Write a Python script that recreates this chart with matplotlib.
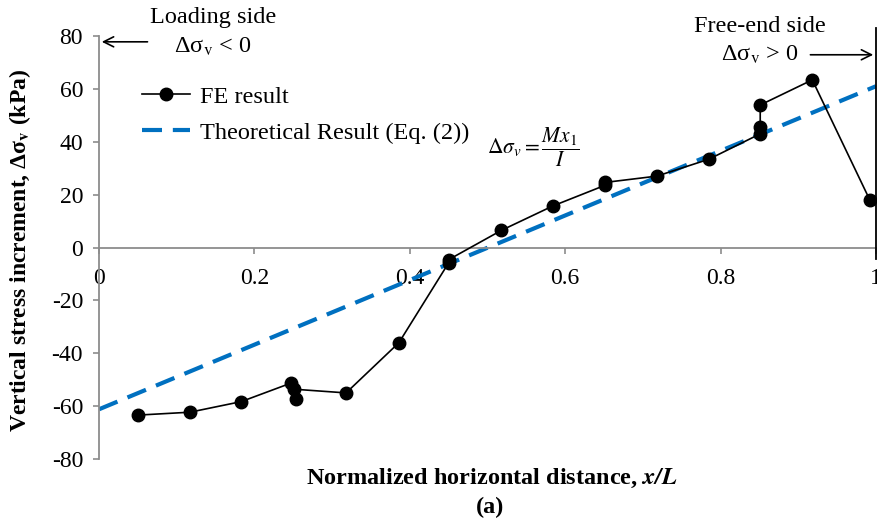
import matplotlib
matplotlib.use("Agg")
import matplotlib.pyplot as plt
import numpy as np

plt.rcParams['font.family'] = ['Liberation Serif', 'DejaVu Serif']
plt.rcParams['mathtext.fontset'] = 'stix'
plt.rcParams['axes.unicode_minus'] = False

# FE result data (normalized distance, stress increment in kPa)
fe_x = [0.050, 0.117, 0.183, 0.247, 0.253, 0.251, 0.318, 0.386, 0.450, 0.450,
        0.518, 0.584, 0.651, 0.651, 0.718, 0.785, 0.851, 0.851, 0.851, 0.918, 0.992]
fe_y = [-63.4, -62.3, -58.3, -51.3, -57.2, -53.6, -55.0, -36.0, -5.8, -4.6,
        6.5, 15.7, 23.5, 24.6, 27.0, 33.4, 43.0, 45.6, 53.9, 63.4, 18.0]

# Theoretical result (Eq. 2): linear
th_x = [0.0, 1.0]
th_y = [-61.2, 61.0]

xticks = [0, 0.2, 0.4, 0.6, 0.8, 1]
xticklabels = ['0', '0.2', '0.4', '0.6', '0.8', '1']
yticks = [-80, -60, -40, -20, 0, 20, 40, 60, 80]

W, H = 877, 530
fig = plt.figure(figsize=(W/100, H/100), dpi=100)
ax = fig.add_axes([99/W, 1-459/H, 777/W, 423/H])
ax.set_xlim(0, 1)
ax.set_ylim(-80, 80)

gray = '#8c8c8c'
ax.plot(th_x, th_y, color='#0070C0', lw=3.0, dashes=(4.8, 2.6),
        label='Theoretical Result (Eq. (2))', zorder=2)
ax.plot(fe_x, fe_y, color='black', lw=1.2, marker='o', ms=9,
        label='FE result', zorder=3)

for s in ['top', 'right']:
    ax.spines[s].set_visible(False)
ax.spines['bottom'].set_position(('data', 0))
for s in ['left', 'bottom']:
    ax.spines[s].set_color(gray)
    ax.spines[s].set_linewidth(1.3)

ax.set_xticks(xticks)
ax.set_xticklabels(xticklabels)
ax.set_yticks(yticks)
ax.tick_params(axis='both', colors=gray, labelcolor='black', labelsize=17,
               length=4.5, width=1.2, direction='out')
ax.tick_params(axis='x', pad=10)
ax.tick_params(axis='y', pad=7)
for lbl in ax.get_xticklabels():
    lbl.set_clip_on(False)

# right boundary line
ax.plot([1, 1], [-4.2, 83.2], color='black', lw=1.3, clip_on=False, zorder=4)

# annotations
fs = 17.5
ax.text(0.147, 87.0, 'Loading side', ha='center', va='center', fontsize=fs)
ax.text(0.147, 75.9, 'Δσ$_\\mathrm{v}$ < 0', ha='center', va='center', fontsize=fs)
ax.annotate('', xy=(0.0, 77.8), xytext=(0.066, 77.8),
            arrowprops=dict(arrowstyle='->', color='black', lw=1.2,
                            mutation_scale=18), annotation_clip=False)
ax.text(0.851, 83.5, 'Free-end side', ha='center', va='center', fontsize=fs)
ax.text(0.851, 72.9, 'Δσ$_\\mathrm{v}$ > 0', ha='center', va='center', fontsize=fs)
ax.annotate('', xy=(1.0, 72.9), xytext=(0.912, 72.9),
            arrowprops=dict(arrowstyle='->', color='black', lw=1.2,
                            mutation_scale=18), annotation_clip=False)

# legend
handles, labels = ax.get_legend_handles_labels()
leg = ax.legend(handles[::-1], labels[::-1], loc='upper left',
                bbox_to_anchor=(0.055, 0.882), frameon=False, fontsize=fs,
                handlelength=1.97, handletextpad=0.41, labelspacing=0.57,
                borderaxespad=0, borderpad=0)

ax.text(0.50, 0.738, r'$\Delta\sigma_v = \dfrac{Mx_1}{I}$', transform=ax.transAxes,
        ha='left', va='center', fontsize=15.5)

fig.text(20/W, 1-250/H, 'Vertical stress increment, Δσ$_\\mathbf{v}$ (kPa)',
         rotation=90, ha='center', va='center', fontsize=17, fontweight='bold')
fig.text(492/W, 1-478/H, r'Normalized horizontal distance, $\mathbfit{x/L}$',
         ha='center', va='center', fontsize=17.5, fontweight='bold')
fig.text(490/W, 1-507/H, '(a)', ha='center', va='center', fontsize=17.5,
         fontweight='bold')

fig.savefig('out.png', dpi=100)
